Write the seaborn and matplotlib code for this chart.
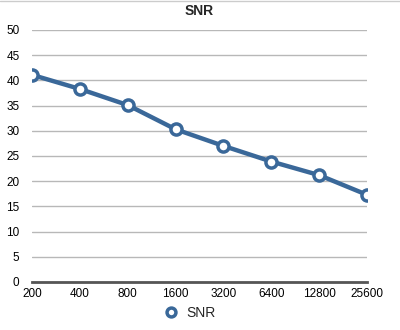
import matplotlib
matplotlib.use("Agg")
import matplotlib.pyplot as plt
import seaborn as sns
import pandas as pd

iso = ["200", "400", "800", "1600", "3200", "6400", "12800", "25600"]
snr = [41.1, 38.3, 35.1, 30.3, 27.0, 23.9, 21.2, 17.3]
yticks = [0, 5, 10, 15, 20, 25, 30, 35, 40, 45, 50]

df = pd.DataFrame({"ISO": iso, "SNR": snr})

sns.set_style("white")
plt.rcParams['font.family'] = ['Liberation Sans', 'DejaVu Sans']

fig = plt.figure(figsize=(4, 3.3), dpi=100)
ax = fig.add_axes([0.08, 0.1455, 0.8375, 0.7636])

color = "#3a6899"
sns.lineplot(data=df, x="ISO", y="SNR", ax=ax, color=color, linewidth=3.2,
             marker="o", markersize=8, markerfacecolor="white",
             markeredgecolor=color, markeredgewidth=2.5, label="SNR", sort=False)

ax.set_ylim(0, 50)
ax.set_xlim(0, len(iso) - 1)
ax.set_yticks(yticks)
ax.set_yticklabels([str(v) for v in yticks])
ax.yaxis.grid(True, color="#b8b8b8", linewidth=1)
ax.xaxis.grid(False)
ax.set_axisbelow(True)
for s in ["top", "right", "left"]:
    ax.spines[s].set_visible(False)
ax.spines["bottom"].set_color("#555555")
ax.spines["bottom"].set_linewidth(2)
ax.tick_params(axis="both", length=0, labelsize=8.5, colors="black")
ax.tick_params(axis="x", pad=4)
ax.tick_params(axis="y", pad=9)
ax.set_xlabel("")
ax.set_ylabel("")
ax.set_title("SNR", fontsize=10, fontweight="bold", pad=11)

ax.legend(loc="upper center", bbox_to_anchor=(0.47, -0.045), frameon=False,
          fontsize=10, handlelength=1.0, handletextpad=0.6, markerscale=0.8)
leg = ax.get_legend()
for h in leg.get_lines():
    h.set_linewidth(0)

fig.add_artist(plt.Line2D([0, 1], [0.998, 0.998], color="#cccccc", linewidth=1))
fig.savefig("out.png", dpi=100)
